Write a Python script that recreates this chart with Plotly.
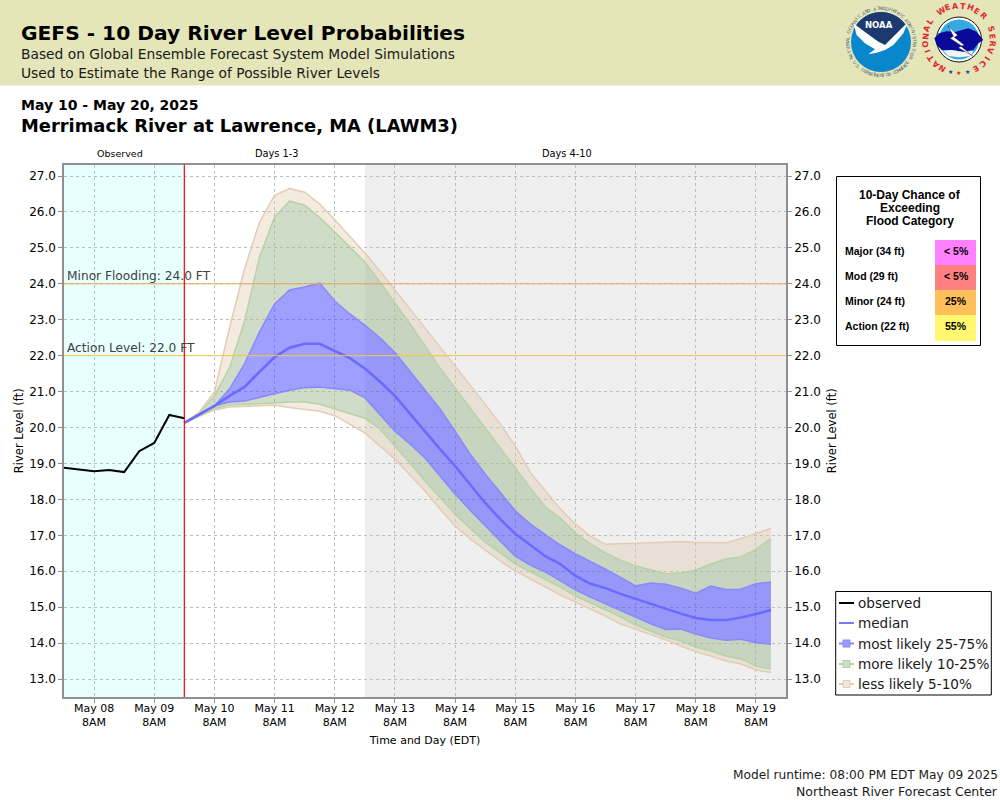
import numpy as np
import pandas as pd
import plotly.graph_objects as go

# river level data, feet
observed_start = "2025-05-07 20:00"
observed = [18.88, 18.83, 18.78, 18.82, 18.76, 19.34, 19.57, 20.35, 20.26]

forecast_start = "2025-05-09 20:00"
p95 = [20.13, 20.43, 20.99, 22.77, 24.41, 25.72, 26.46, 26.65, 26.55, 26.22,
       25.78, 25.33, 24.86, 24.36, 23.83, 23.33, 22.77, 22.25, 21.74, 21.21,
       20.65, 20.10, 19.49, 18.75, 18.23, 17.73, 17.31, 16.98, 16.75, 16.76,
       16.77, 16.79, 16.81, 16.83, 16.80, 16.80, 16.79, 16.91, 17.04, 17.19]
p90 = [20.13, 20.40, 20.88, 21.66, 22.96, 24.75, 25.86, 26.30, 26.19, 25.84,
       25.44, 25.02, 24.61, 24.05, 23.47, 22.88, 22.27, 21.66, 21.10, 20.54,
       19.99, 19.43, 18.87, 18.32, 17.79, 17.48, 17.06, 16.76, 16.51, 16.31,
       16.15, 16.03, 15.93, 15.95, 16.03, 16.20, 16.34, 16.40, 16.61, 16.91]
p75 = [20.13, 20.38, 20.60, 21.07, 21.77, 22.66, 23.44, 23.83, 23.91, 24.02,
       23.52, 23.16, 22.85, 22.50, 22.09, 21.57, 21.07, 20.52, 19.90, 19.26,
       18.71, 18.18, 17.68, 17.31, 17.01, 16.73, 16.48, 16.28, 16.06, 15.83,
       15.59, 15.67, 15.64, 15.53, 15.39, 15.59, 15.49, 15.50, 15.65, 15.70]
p50 = [20.13, 20.36, 20.60, 20.88, 21.13, 21.55, 21.96, 22.22, 22.33, 22.33,
       22.13, 21.93, 21.64, 21.28, 20.88, 20.38, 19.90, 19.40, 18.93, 18.43,
       17.90, 17.45, 17.04, 16.73, 16.42, 16.20, 15.87, 15.65, 15.53, 15.37,
       15.23, 15.09, 14.95, 14.82, 14.70, 14.64, 14.64, 14.71, 14.81, 14.92]
p25 = [20.13, 20.35, 20.60, 20.71, 20.74, 20.85, 20.94, 21.04, 21.11, 21.13,
       21.09, 21.04, 20.83, 20.38, 19.90, 19.54, 19.15, 18.65, 18.15, 17.70,
       17.26, 16.84, 16.42, 16.17, 15.98, 15.73, 15.48, 15.28, 15.09, 14.90,
       14.71, 14.54, 14.38, 14.39, 14.25, 14.14, 14.08, 14.11, 14.01, 13.97]
p10 = [20.13, 20.33, 20.52, 20.63, 20.64, 20.65, 20.68, 20.71, 20.71, 20.65,
       20.52, 20.41, 20.26, 19.96, 19.49, 19.01, 18.51, 18.04, 17.59, 17.20,
       16.81, 16.51, 16.20, 15.98, 15.78, 15.56, 15.31, 15.12, 14.93, 14.73,
       14.50, 14.34, 14.17, 14.06, 13.89, 13.78, 13.64, 13.56, 13.36, 13.28]
p5 = [20.13, 20.32, 20.49, 20.57, 20.58, 20.60, 20.62, 20.56, 20.50, 20.45,
      20.33, 20.10, 19.85, 19.49, 19.12, 18.68, 18.23, 17.73, 17.26, 16.90,
      16.59, 16.28, 16.01, 15.78, 15.56, 15.34, 15.14, 14.95, 14.75, 14.53,
      14.39, 14.25, 14.09, 13.92, 13.76, 13.64, 13.50, 13.42, 13.25, 13.18]

minor_flood = 24.0
action_level = 22.0

tick_days = ["08", "09", "10", "11", "12", "13", "14", "15", "16", "17", "18", "19"]
y_ticks = list(range(13, 28))

# flood category panel
categories = ["Major (34 ft)", "Mod (29 ft)", "Minor (24 ft)", "Action (22 ft)"]
chances = ["< 5%", "< 5%", "25%", "55%"]
category_colors = ["#FF80FF", "#FF8080", "#FFBF5A", "#FFF870"]
category_tops = [240, 265, 290, 315, 341]

legend_names = ["observed", "median", "most likely 25-75%", "more likely 10-25%", "less likely 5-10%"]
legend_lines = ["#000000", "#7777FF", "#8888FF", "#B5D3A5", "#E3CDB5"]
legend_boxes = [None, None, "#9C9CFF", "#CFDDC8", "#F0E8DC"]

W, H = 1000, 800

TAN = "rgba(222,196,165,0.35)"
GREEN = "rgba(160,185,145,0.5)"
BLUE = "rgba(64,64,255,0.5)"
TAN_LINE = "#E3CDB5"
GREEN_LINE = "#B7D3A6"
BLUE_LINE = "#8888FF"


def fx(x):
    return x / W


def fy(y):
    return 1 - y / H


def note(text, x, y, size=12, color="#000000", family="DejaVu Sans", anchor="left", angle=0):
    # annotations sit about 2px inside their anchor, take that back out
    shift = {"left": -2, "center": 0, "right": 2}[anchor]
    fig.add_annotation(text=text, x=fx(x + shift), y=fy(y), xref="paper", yref="paper",
                       xanchor=anchor, yanchor="middle", showarrow=False, textangle=angle,
                       font=dict(size=size, color=color, family=family))


def rect(x0, y0, x1, y1, fill=None, line=None, width=1):
    fig.add_shape(type="rect", xref="paper", yref="paper", layer="above",
                  x0=fx(x0), y0=fy(y0), x1=fx(x1), y1=fy(y1),
                  fillcolor=fill, line=dict(color=line, width=width if line else 0))


def poly(points, fill, line=None, width=0.5):
    path = "M " + " L ".join(f"{fx(x):.5f} {fy(y):.5f}" for x, y in points) + " Z"
    fig.add_shape(type="path", path=path, xref="paper", yref="paper", layer="above",
                  fillcolor=fill, line=dict(color=line, width=width if line else 0))


def disc(cx, cy, r, fill, line=None, width=1):
    fig.add_shape(type="circle", xref="paper", yref="paper", layer="above",
                  x0=fx(cx - r), x1=fx(cx + r), y0=fy(cy + r), y1=fy(cy - r),
                  fillcolor=fill, line=dict(color=line, width=width if line else 0))


def ring_text(text, cx, cy, r, start, stop, size, color, bold=False, flip=False):
    # letters placed one by one round a circle, angles clockwise from the top
    angles = np.linspace(start, stop, len(text))
    for ch, a in zip(text, angles):
        if ch == " ":
            continue
        t = np.radians(a)
        upright = a - 180 if flip else a
        label = f"<b>{ch}</b>" if bold else ch
        note(label, cx + r * np.sin(t), cy - r * np.cos(t), size=size, color=color,
             anchor="center", angle=upright)


def logo_zoom(points):
    return [(835 + px / 3, py / 3) for px, py in points]


forecast_times = pd.date_range(forecast_start, periods=len(p50), freq="6h")
observed_times = pd.date_range(observed_start, periods=len(observed), freq="6h")
x_start = pd.Timestamp("2025-05-07 20:00")
x_end = pd.Timestamp("2025-05-19 20:00")
x_forecast = pd.Timestamp(forecast_start)
x_day4 = pd.Timestamp("2025-05-12 20:00")

fig = go.Figure()

# stacked bands, each filled down to the trace before it
bands = [(p5, TAN_LINE, None), (p10, GREEN_LINE, TAN), (p25, BLUE_LINE, GREEN),
         (p75, BLUE_LINE, BLUE), (p90, GREEN_LINE, GREEN), (p95, TAN_LINE, TAN)]
for values, line_color, fill_color in bands:
    fig.add_trace(go.Scatter(x=forecast_times, y=values, mode="lines",
                             line=dict(color=line_color, width=1.5),
                             fill="tonexty" if fill_color else None,
                             fillcolor=fill_color, showlegend=False, hoverinfo="skip"))

fig.add_trace(go.Scatter(x=forecast_times, y=p50, mode="lines", line=dict(color="#6A6AFF", width=2.5),
                         showlegend=False))
fig.add_trace(go.Scatter(x=observed_times, y=observed, mode="lines", line=dict(color="#000000", width=2),
                         showlegend=False))

# flood levels go on the right hand axis so it gets drawn
fig.add_trace(go.Scatter(x=[x_start, x_end], y=[minor_flood, minor_flood], mode="lines", yaxis="y2",
                         line=dict(color="#EBA35C", width=1), showlegend=False, hoverinfo="skip"))
fig.add_trace(go.Scatter(x=[x_start, x_end], y=[action_level, action_level], mode="lines", yaxis="y2",
                         line=dict(color="#F5C94C", width=1), showlegend=False, hoverinfo="skip"))

fig.add_vrect(x0=x_start, x1=x_forecast, fillcolor="#E8FFFF", line_width=0, layer="below")
fig.add_vrect(x0=x_day4, x1=x_end, fillcolor="#EFEFEF", line_width=0, layer="below")
fig.add_shape(type="line", x0=x_forecast, x1=x_forecast, y0=fy(697), y1=fy(164.5), yref="paper", xref="x",
              line=dict(color="#FF0000", width=1.2), layer="above")

axis_color = "#909090"
grid_color = "#BDBDBD"
tick_font = dict(size=12, color="#000000", family="DejaVu Sans")
y_range = [12.50, 27.32]

fig.update_layout(
    width=W, height=H, autosize=False,
    margin=dict(l=0, r=0, t=0, b=0, pad=0),
    paper_bgcolor="#FFFFFF", plot_bgcolor="#FFFFFF",
    showlegend=False,
    xaxis=dict(
        type="date", range=[x_start, x_end],
        domain=[fx(64), fx(786)], anchor="y",
        tickvals=[pd.Timestamp(f"2025-05-{d} 08:00") for d in tick_days],
        ticktext=[f"May {d}<br>8AM" for d in tick_days],
        tickangle=0,
        tickfont=dict(size=11, color="#000000", family="DejaVu Sans"),
        ticks="outside", ticklen=4, tickcolor=axis_color, ticklabelstandoff=-4,
        showgrid=True, gridcolor=grid_color, griddash="3px,3px", gridwidth=1,
        showline=True, linecolor=axis_color, linewidth=1.5, mirror=True, zeroline=False,
        title=dict(text="Time and Day (EDT)", font=dict(size=11, color="#000000", family="DejaVu Sans"),
                   standoff=8),
    ),
    yaxis=dict(
        range=y_range, domain=[fy(697), fy(164.5)], anchor="x",
        tickvals=y_ticks, tickformat=".1f", tickfont=tick_font,
        ticks="outside", ticklen=4, tickcolor=axis_color,
        showgrid=True, gridcolor=grid_color, griddash="3px,3px", gridwidth=1,
        showline=True, linecolor=axis_color, linewidth=1.5, zeroline=False,
        title=dict(text="River Level (ft)", font=dict(size=11.5, color="#000000", family="DejaVu Sans"),
                   standoff=3),
    ),
    yaxis2=dict(
        range=y_range, domain=[fy(697), fy(164.5)], anchor="x", overlaying="y", side="right",
        tickvals=y_ticks, tickformat=".1f", tickfont=tick_font,
        ticks="outside", ticklen=4, tickcolor=axis_color,
        showgrid=False, showline=True, linecolor=axis_color, linewidth=1.5, zeroline=False,
        title=dict(text="River Level (ft)", font=dict(size=11.5, color="#000000", family="DejaVu Sans"),
                   standoff=8),
    ),
)

# header band
rect(0, 0, W, 85.5, fill="#E4E5B9")
note("<b>GEFS - 10 Day River Level Probabilities</b>", 21, 33, size=20.2)
note("Based on Global Ensemble Forecast System Model Simulations", 21, 54, size=13.8, color="#1A1A1A")
note("Used to Estimate the Range of Possible River Levels", 21, 73, size=13.8, color="#1A1A1A")
note("<b>May 10 - May 20, 2025</b>", 21, 105, size=14)
note("<b>Merrimack River at Lawrence, MA (LAWM3)</b>", 21, 126, size=17.9)

note("Observed", 120, 153.5, size=9.5, anchor="center")
note("Days 1-3", 276.5, 153.5, size=9.8, anchor="center")
note("Days 4-10", 566.5, 153.5, size=9.8, anchor="center")

note(f"Minor Flooding: {minor_flood:.1f} FT", 67, 276, size=12.2, color="#404040")
note(f"Action Level: {action_level:.1f} FT", 67, 348, size=12.2, color="#404040")

note("Model runtime: 08:00 PM EDT May 09 2025", 998, 775, size=12.2, anchor="right", color="#1A1A1A")
note("Northeast River Forecast Center", 998, 791, size=12.5, anchor="right", color="#1A1A1A")

# flood category panel
rect(836.5, 176.5, 980.5, 345.5, fill="#FFFFFF", line="#000000", width=1)
for line_text, y in zip(["10-Day Chance of", "Exceeding", "Flood Category"], [195, 208, 221]):
    note(f"<b>{line_text}</b>", 910, y, size=12, anchor="center", family="Liberation Sans")
for i, name in enumerate(categories):
    top, bottom = category_tops[i], category_tops[i + 1]
    rect(935, top, 976, bottom, fill=category_colors[i])
    note(f"<b>{name}</b>", 845, top + 11, size=10.5, family="Liberation Sans")
    note(f"<b>{chances[i]}</b>", 956, top + 11, size=10.5, anchor="center", family="Liberation Sans")

# legend box
legend_rows = [603, 623, 643.5, 664, 684]
rect(835.7, 591.5, 991.3, 695, fill="#FFFFFF", line="#000000", width=1)
for name, row, line_color, box_color in zip(legend_names, legend_rows, legend_lines, legend_boxes):
    fig.add_shape(type="line", xref="paper", yref="paper", layer="above",
                  x0=fx(839), x1=fx(854), y0=fy(row), y1=fy(row),
                  line=dict(color=line_color, width=2))
    if box_color:
        rect(843, row - 3.5, 850, row + 3.5, fill=box_color, line=line_color, width=1)
    note(name, 857.5, row, size=13.6, color="#1A1A1A")

# NOAA logo
noaa_x, noaa_y = 881, 42
disc(noaa_x, noaa_y, 30, "#0A87CC")
arc = [(noaa_x + 30 * np.sin(np.radians(a)), noaa_y - 30 * np.cos(np.radians(a))) for a in range(-66, 62, 8)]
poly(arc + logo_zoom([(195, 90), (165, 120), (150, 135), (130, 125), (95, 100)]), "#1C3A70")
poly(logo_zoom([(55, 70), (95, 100), (130, 125), (150, 135), (165, 120), (195, 90), (218, 68), (205, 100),
                (175, 135), (150, 150), (125, 158), (100, 163), (120, 148), (90, 130), (65, 105)]), "#FFFFFF")
note("<b>NOAA</b>", 879, 25, size=8.5, color="#FFFFFF", anchor="center")
ring_text("NATIONAL OCEANIC AND ATMOSPHERIC ADMINISTRATION", noaa_x, noaa_y, 33.5, -118, 118, 4.5, "#51607A")
ring_text("U.S. DEPARTMENT OF COMMERCE", noaa_x, noaa_y, 33.5, 232, 128, 4.5, "#51607A", flip=True)

# NWS logo
nws_x, nws_y = 959, 39.5
disc(nws_x, nws_y, 22.5, "#FFFFFF", line="#111111", width=1)
disc(nws_x, nws_y, 20, "#36A9E0")
poly(logo_zoom([(298, 115), (312, 100), (335, 94), (360, 96), (400, 85), (425, 95), (445, 120), (430, 130),
                (415, 150), (385, 155), (350, 150), (320, 150), (305, 135)]), "#0A0A9A")
poly(logo_zoom([(325, 152), (350, 150), (385, 156), (415, 152), (408, 168), (372, 172), (340, 168)]), "#F4F4F4")
poly(logo_zoom([(340, 78), (368, 106), (358, 112), (388, 135), (378, 139), (413, 168), (370, 143), (380, 138),
                (345, 115), (355, 109)]), "#FFFFFF", line="#111111", width=0.4)
ring_text("NATIONAL WEATHER SERVICE", nws_x, nws_y, 33.5, -149, 149, 8, "#E0262C", bold=True)
for star_x, star_y, star_color in [(950, 71, "#1C3A90"), (958.5, 72.5, "#E0262C"), (967, 71, "#1C3A90")]:
    note("★", star_x, star_y, size=6, color=star_color, anchor="center")

fig.write_html("out.html", config=dict(displayModeBar=False),
               post_script="document.body.style.margin='0';document.body.style.overflow='hidden';")
